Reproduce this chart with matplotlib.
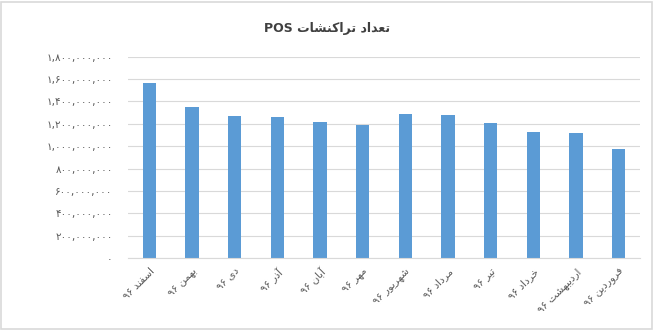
"""POS transactions per month (1396), bar chart with Persian labels."""

import matplotlib
matplotlib.use("Agg")
import matplotlib.pyplot as plt
from matplotlib.patches import Rectangle
from matplotlib.ticker import FuncFormatter

months = ["اسفند ۹۶", "بهمن ۹۶", "دی ۹۶", "آذر ۹۶", "آبان ۹۶", "مهر ۹۶",
          "شهریور ۹۶", "مرداد ۹۶", "تیر ۹۶", "خرداد ۹۶", "اردیبهشت ۹۶", "فروردین ۹۶"]
counts = [1562e6, 1348e6, 1270e6, 1261e6, 1216e6, 1189e6,
          1288e6, 1281e6, 1204e6, 1124e6, 1118e6, 975e6]
yticks = [0, 200e6, 400e6, 600e6, 800e6, 1000e6, 1200e6, 1400e6, 1600e6, 1800e6]
title = "تعداد تراکنشات POS"

# presentation forms: isolated, final, initial, medial (None = right-joining only)
FORMS = {
    "ا": (0xFE8D, 0xFE8E, None, None),
    "آ": (0xFE81, 0xFE82, None, None),
    "ب": (0xFE8F, 0xFE90, 0xFE91, 0xFE92),
    "ت": (0xFE95, 0xFE96, 0xFE97, 0xFE98),
    "خ": (0xFEA5, 0xFEA6, 0xFEA7, 0xFEA8),
    "د": (0xFEA9, 0xFEAA, None, None),
    "ذ": (0xFEAB, 0xFEAC, None, None),
    "ر": (0xFEAD, 0xFEAE, None, None),
    "س": (0xFEB1, 0xFEB2, 0xFEB3, 0xFEB4),
    "ش": (0xFEB5, 0xFEB6, 0xFEB7, 0xFEB8),
    "ع": (0xFEC9, 0xFECA, 0xFECB, 0xFECC),
    "ف": (0xFED1, 0xFED2, 0xFED3, 0xFED4),
    "م": (0xFEE1, 0xFEE2, 0xFEE3, 0xFEE4),
    "ن": (0xFEE5, 0xFEE6, 0xFEE7, 0xFEE8),
    "ه": (0xFEE9, 0xFEEA, 0xFEEB, 0xFEEC),
    "و": (0xFEED, 0xFEEE, None, None),
    "ک": (0xFB8E, 0xFB8F, 0xFB90, 0xFB91),
    "ی": (0xFBFC, 0xFBFD, 0xFBFE, 0xFBFF),
}


def dual(c):
    return c in FORMS and FORMS[c][2] is not None


def shape_word(w):
    out = []
    for i, c in enumerate(w):
        if c not in FORMS:
            out.append(c)
            continue
        prev = i > 0 and dual(w[i - 1])
        nxt = i < len(w) - 1 and w[i + 1] in FORMS and dual(c)
        iso, fin, ini, med = FORMS[c]
        if prev and nxt:
            code = med
        elif prev:
            code = fin
        elif nxt:
            code = ini
        else:
            code = iso
        out.append(chr(code))
    return "".join(reversed(out))


def visual(s):
    # matplotlib has no bidi/shaping, so build the visual (LTR) string by hand
    words = s.split(" ")
    shaped = [shape_word(w) if any(ch in FORMS for ch in w) else w for w in words]
    return " ".join(reversed(shaped))


def persian_num(v, pos=None):
    s = f"{int(round(v)):,}"
    return s.translate(str.maketrans("0123456789", "۰۱۲۳۴۵۶۷۸۹"))


plt.rcParams["font.family"] = ["DejaVu Sans"]
grey = "#595959"

fig = plt.figure(figsize=(6.55, 3.3), dpi=100)
ax = fig.add_axes([0.1954, 0.218, 0.7816, 0.610])

x = range(len(months))
ax.bar(x, counts, width=0.31, color="#5B9BD5", zorder=2)
ax.set_xlim(-0.5, len(months) - 0.5)
ax.set_ylim(0, 1800e6)
ax.set_yticks(yticks)
ax.yaxis.set_major_formatter(FuncFormatter(persian_num))
ax.set_xticks(list(x))
ax.set_xticklabels([visual(m) for m in months], rotation=45, ha="right",
                   rotation_mode="anchor", fontsize=7.5, color=grey)
ax.tick_params(axis="y", length=0, pad=11, labelsize=7.5, labelcolor=grey)
ax.tick_params(axis="x", length=0, pad=6)
ax.grid(axis="y", color="#d9d9d9", linewidth=0.8, zorder=0)
for side in ["top", "right", "left"]:
    ax.spines[side].set_visible(False)
ax.spines["bottom"].set_color("#d9d9d9")

fig.text(0.5, 0.913, visual(title), ha="center", va="center",
         fontsize=9, fontweight="bold", color="#404040")

fig.patches.append(Rectangle((0.002, 0.004), 0.994, 0.99, transform=fig.transFigure,
                             fill=False, edgecolor="#d9d9d9", linewidth=1.2))

fig.savefig("out.png", dpi=100)
